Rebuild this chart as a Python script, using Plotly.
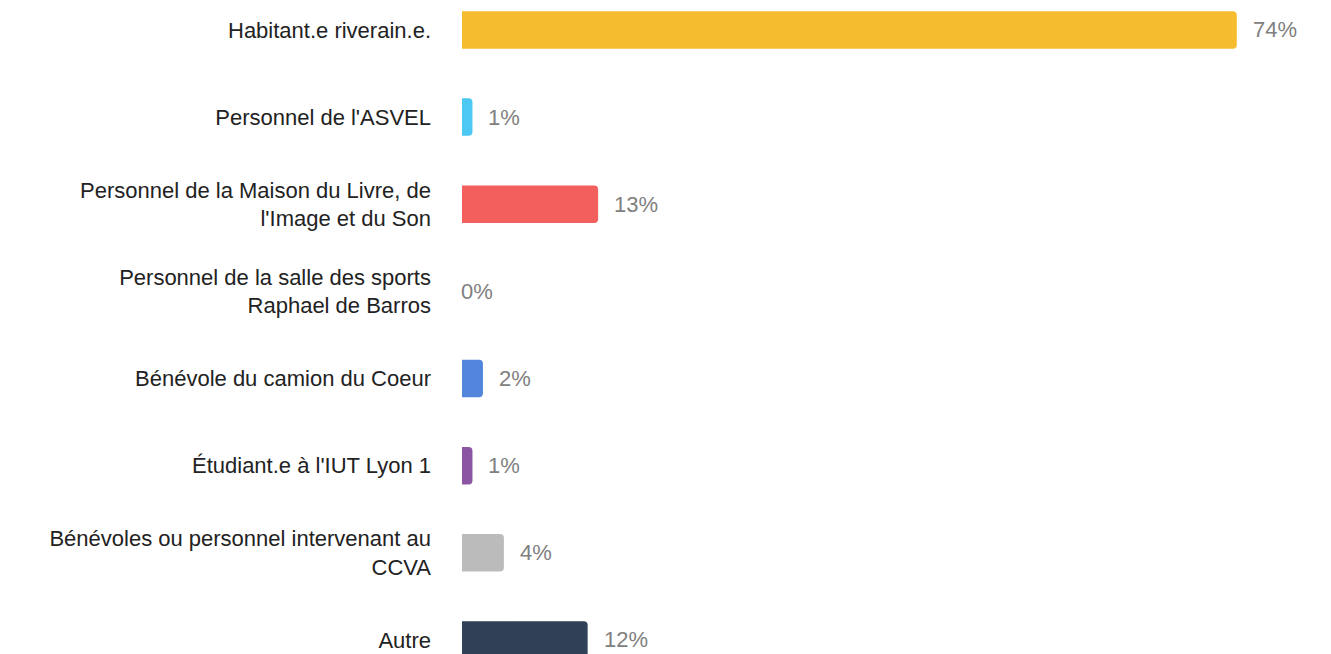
import plotly.graph_objects as go

categories = [
    "Habitant.e riverain.e.",
    "Personnel de l'ASVEL",
    "Personnel de la Maison du Livre, de<br>l'Image et du Son",
    "Personnel de la salle des sports<br>Raphael de Barros",
    "Bénévole du camion du Coeur",
    "Étudiant.e à l'IUT Lyon 1",
    "Bénévoles ou personnel intervenant au<br>CCVA",
    "Autre",
]
values = [74, 1, 13, 0, 2, 1, 4, 12]
colors = ["#F6BC30", "#4DC8F2", "#F35F5D", "#A0A0A0", "#5186DC", "#8B55A3", "#BBBBBB", "#2F4057"]

FONT = "Liberation Sans, Arial, Helvetica, sans-serif"

fig = go.Figure(
    go.Bar(
        x=values,
        y=categories,
        orientation="h",
        marker=dict(color=colors, line=dict(width=0)),
        width=0.43,
        hoverinfo="skip",
    )
)

for cat, val in zip(categories, values):
    fig.add_annotation(
        x=val, y=cat, text=f"{val}%", showarrow=False,
        xanchor="left", yanchor="middle",
        xshift=14 if val > 0 else -3,
        font=dict(family=FONT, size=22, color="#808080"),
    )

fig.update_layout(
    width=1331, height=654,
    margin=dict(l=454, r=0, t=0, b=0, autoexpand=False),
    paper_bgcolor="white", plot_bgcolor="white",
    showlegend=False,
    barcornerradius=4,
    font=dict(family=FONT, size=22, color="#222222"),
)
fig.update_xaxes(range=[0, 83.76], visible=False, showgrid=False, zeroline=False)
fig.update_yaxes(
    type="category",
    range=[7.253, -0.252],
    automargin=False,
    showgrid=False, zeroline=False, showline=False, ticks="",
    ticklabelstandoff=30,
    tickfont=dict(family=FONT, size=22, color="#222222"),
)

fig.write_html("out.html")
